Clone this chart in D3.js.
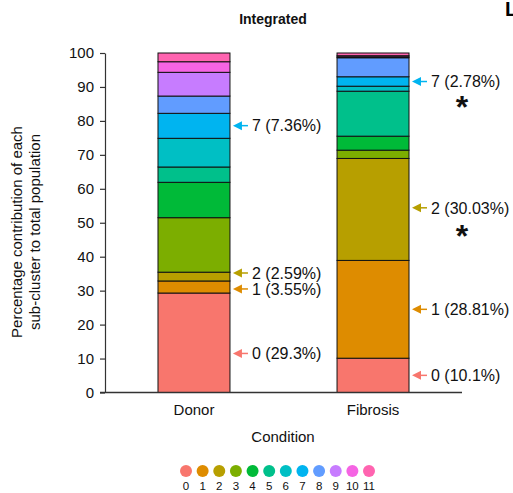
<!DOCTYPE html>
<html>
<head>
<meta charset="utf-8">
<script src="https://cdn.jsdelivr.net/npm/d3@7"></script>
<style>
  html, body { margin: 0; padding: 0; background: #fff; }
  svg { display: block; font-family: "Liberation Sans", Arial, sans-serif; }
</style>
</head>
<body>
<svg id="chart" width="513" height="493"></svg>
<script>
// Conditions on the x axis
const conditions = ["Donor", "Fibrosis"];
// Sub-cluster ids, bottom to top of each stack
const clusters = ["0", "1", "2", "3", "4", "5", "6", "7", "8", "9", "10", "11"];
// Percentage of each sub-cluster per condition
const donorPct    = [29.3, 3.55, 2.59, 16.05, 10.42, 4.51, 8.45, 7.36, 5.09, 6.99, 3.12, 2.57];
const fibrosisPct = [10.1, 28.81, 30.03, 2.44, 4.12, 13.25, 1.47, 2.78, 5.6, 0.25, 0.35, 0.8];
// Cluster colours
const clusterColors = ["#F8766D", "#DE8C00", "#B79F00", "#7CAE00", "#00BA38", "#00C08B",
                       "#00BFC4", "#00B4F0", "#619CFF", "#C77CFF", "#F564E3", "#FF64B0"];
// Y axis ticks
const yTicks = [0, 10, 20, 30, 40, 50, 60, 70, 80, 90, 100];
// Called-out clusters: condition, cluster, and the y value the arrow points at
const calloutCondition = ["Donor", "Donor", "Donor", "Donor", "Fibrosis", "Fibrosis", "Fibrosis", "Fibrosis"];
const calloutCluster   = ["0", "1", "2", "7", "0", "1", "2", "7"];
const calloutAt        = [11.5, 30.5, 35.2, 78.6, 5.05, 24.5, 54.4, 91.6];
// Significance marks next to the Fibrosis bar (y values)
const starAt = [87.5, 49.5];

const svg = d3.select("#chart");

const x = d3.scaleBand().domain(conditions).range([105, 462])
  .paddingInner(0.598).paddingOuter(0.296);
const y = d3.scaleLinear().domain([0, 100]).range([392.5, 53]);
const color = d3.scaleOrdinal().domain(clusters).range(clusterColors);

// Table for stacking
const valuesBy = { Donor: donorPct, Fibrosis: fibrosisPct };
const table = conditions.map(c => {
  const row = { condition: c };
  clusters.forEach((k, i) => row[k] = valuesBy[c][i]);
  return row;
});
const series = d3.stack().keys(clusters)(table);

// Title
svg.append("text").attr("x", 273).attr("y", 24).attr("text-anchor", "middle")
  .attr("font-size", 14).attr("font-weight", "bold").attr("fill", "#111").text("Integrated");

// Panel letter at the edge
svg.append("text").attr("x", 505).attr("y", 15.5)
  .attr("font-size", 20).attr("font-weight", "bold").attr("fill", "#000").text("L");

// Stacked bars
svg.append("g").selectAll("g").data(series).join("g")
  .attr("fill", d => color(d.key))
  .selectAll("rect").data(d => d).join("rect")
  .attr("x", d => x(d.data.condition))
  .attr("width", x.bandwidth())
  .attr("y", d => y(d[1]))
  .attr("height", d => y(d[0]) - y(d[1]))
  .attr("stroke", "#111").attr("stroke-width", 1);

// Y axis
const yAxis = svg.append("g").attr("transform", "translate(105,0)")
  .call(d3.axisLeft(y).tickValues(yTicks).tickSize(5).tickSizeOuter(0).tickPadding(6));
yAxis.select(".domain").attr("stroke", "#333").attr("stroke-width", 1.2);
yAxis.selectAll(".tick line").attr("stroke", "#333").attr("stroke-width", 1.2);
yAxis.selectAll(".tick text").attr("font-size", 15).attr("fill", "#111")
  .attr("font-family", "Liberation Sans, Arial, sans-serif");

// X axis
const xAxis = svg.append("g").attr("transform", "translate(0,392.5)")
  .call(d3.axisBottom(x).tickSize(0).tickPadding(12));
xAxis.select(".domain").attr("stroke", "#333").attr("stroke-width", 1.5)
  .attr("d", "M100,0H462");
xAxis.selectAll(".tick text").attr("font-size", 15).attr("fill", "#111")
  .attr("font-family", "Liberation Sans, Arial, sans-serif");

// Axis titles
svg.append("text").attr("x", 283).attr("y", 442).attr("text-anchor", "middle")
  .attr("font-size", 15).attr("fill", "#111").text("Condition");
const yTitle = svg.append("text").attr("transform", "translate(0,232) rotate(-90)")
  .attr("text-anchor", "middle").attr("font-size", 15).attr("fill", "#111");
yTitle.append("tspan").attr("x", 0).attr("y", 22).text("Percentage contribution of each");
yTitle.append("tspan").attr("x", 0).attr("y", 40).text("sub-cluster to total population");

// Callout arrows and labels
const callouts = calloutCondition.map((c, i) => {
  const k = calloutCluster[i];
  return { condition: c, cluster: k, at: calloutAt[i],
           value: valuesBy[c][clusters.indexOf(k)] };
});
const cg = svg.append("g").selectAll("g").data(callouts).join("g")
  .attr("transform", d => `translate(${x(d.condition) + x.bandwidth() + 3},${y(d.at)})`);
cg.append("path").attr("d", "M0,0L9,-4.5L9,4.5Z").attr("fill", d => color(d.cluster));
cg.append("line").attr("x1", 8).attr("x2", 15).attr("y1", 0).attr("y2", 0)
  .attr("stroke", d => color(d.cluster)).attr("stroke-width", 1.5);
cg.append("text").attr("x", 19).attr("y", 0).attr("dy", "0.36em")
  .attr("font-size", 16).attr("fill", "#111")
  .text(d => `${d.cluster} (${d.value}%)`);

// Significance stars
svg.append("g").selectAll("text").data(starAt).join("text")
  .attr("x", 462).attr("y", d => y(d)).attr("dy", "0.72em").attr("text-anchor", "middle")
  .attr("font-size", 32).attr("font-weight", "bold").attr("fill", "#111").text("*");

// Cluster legend
const lx = d3.scalePoint().domain(clusters).range([186, 369]);
const lg = svg.append("g").selectAll("g").data(clusters).join("g")
  .attr("transform", d => `translate(${lx(d)},471)`);
lg.append("circle").attr("r", 6).attr("fill", d => color(d));
lg.append("text").attr("y", 19).attr("text-anchor", "middle")
  .attr("font-size", 11.5).attr("fill", "#111").text(d => d);
</script>
</body>
</html>
